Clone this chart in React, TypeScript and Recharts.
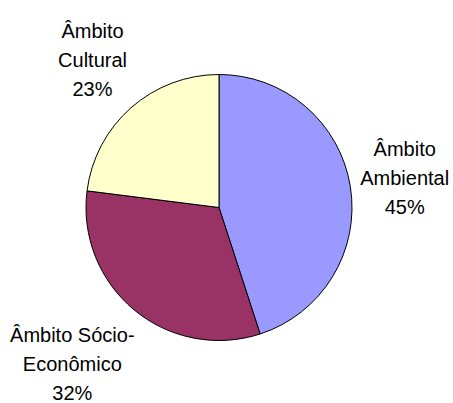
import React from "react";
import { PieChart, Pie, Cell } from "recharts";

const categories = ["Âmbito Ambiental", "Âmbito Sócio-Econômico", "Âmbito Cultural"];
const labelLines = [["Âmbito", "Ambiental"], ["Âmbito Sócio-", "Econômico"], ["Âmbito", "Cultural"]];
const values = [45, 32, 23];
const colors = ["#9999FF", "#993366", "#FFFFCC"];

const data = categories.map((name, i) => ({ name, value: values[i] }));

const FONT = "'Liberation Sans', Arial, sans-serif";
const FONT_SIZE = 20;
const LINE_H = 29;

function measure(text: string): number {
  try {
    const c = document.createElement("canvas");
    const ctx = c.getContext("2d");
    if (ctx) {
      ctx.font = `${FONT_SIZE}px ${FONT}`;
      return ctx.measureText(text).width;
    }
  } catch (e) {}
  return text.length * FONT_SIZE * 0.55;
}

const clamp = (v: number) => Math.max(-1, Math.min(1, v));

const renderLabel = (props: any) => {
  const { cx, cy, midAngle, outerRadius, percent, index } = props;
  const RAD = Math.PI / 180;
  const cos = Math.cos(-midAngle * RAD);
  const sin = Math.sin(-midAngle * RAD);
  const ax = cx + (outerRadius + 10) * cos;
  const ay = cy + (outerRadius + 10) * sin;
  const lines = [...labelLines[index], `${Math.round(percent * 100)}%`];
  const w = Math.max(...lines.map(measure));
  const h = lines.length * LINE_H;
  const bx = ax + (w / 2) * clamp(cos * 1.4);
  const by = ay + (h / 2) * clamp(sin * 1.5);
  const firstBaseline = by - ((lines.length - 1) / 2) * LINE_H + 10;
  return (
    <text
      key={`lbl-${index}`}
      x={bx}
      y={firstBaseline}
      textAnchor="middle"
      fill="#000"
      style={{ fontFamily: FONT, fontSize: FONT_SIZE }}
    >
      {lines.map((l, i) => (
        <tspan key={i} x={bx} y={firstBaseline + i * LINE_H}>
          {l}
        </tspan>
      ))}
    </text>
  );
};

export default function App() {
  return (
    <div style={{ position: "absolute", left: 0, top: 0, background: "#fff" }}>
      <PieChart width={453} height={403} margin={{ top: 0, right: 0, bottom: 0, left: 0 }}>
        <Pie
          data={data}
          dataKey="value"
          nameKey="name"
          cx={219}
          cy={207.5}
          outerRadius={133}
          startAngle={90}
          endAngle={-270}
          stroke="#000"
          strokeWidth={1}
          label={renderLabel}
          labelLine={false}
          isAnimationActive={false}
        >
          {data.map((d, i) => (
            <Cell key={d.name} fill={colors[i]} stroke="#000" strokeWidth={1} />
          ))}
        </Pie>
      </PieChart>
    </div>
  );
}
